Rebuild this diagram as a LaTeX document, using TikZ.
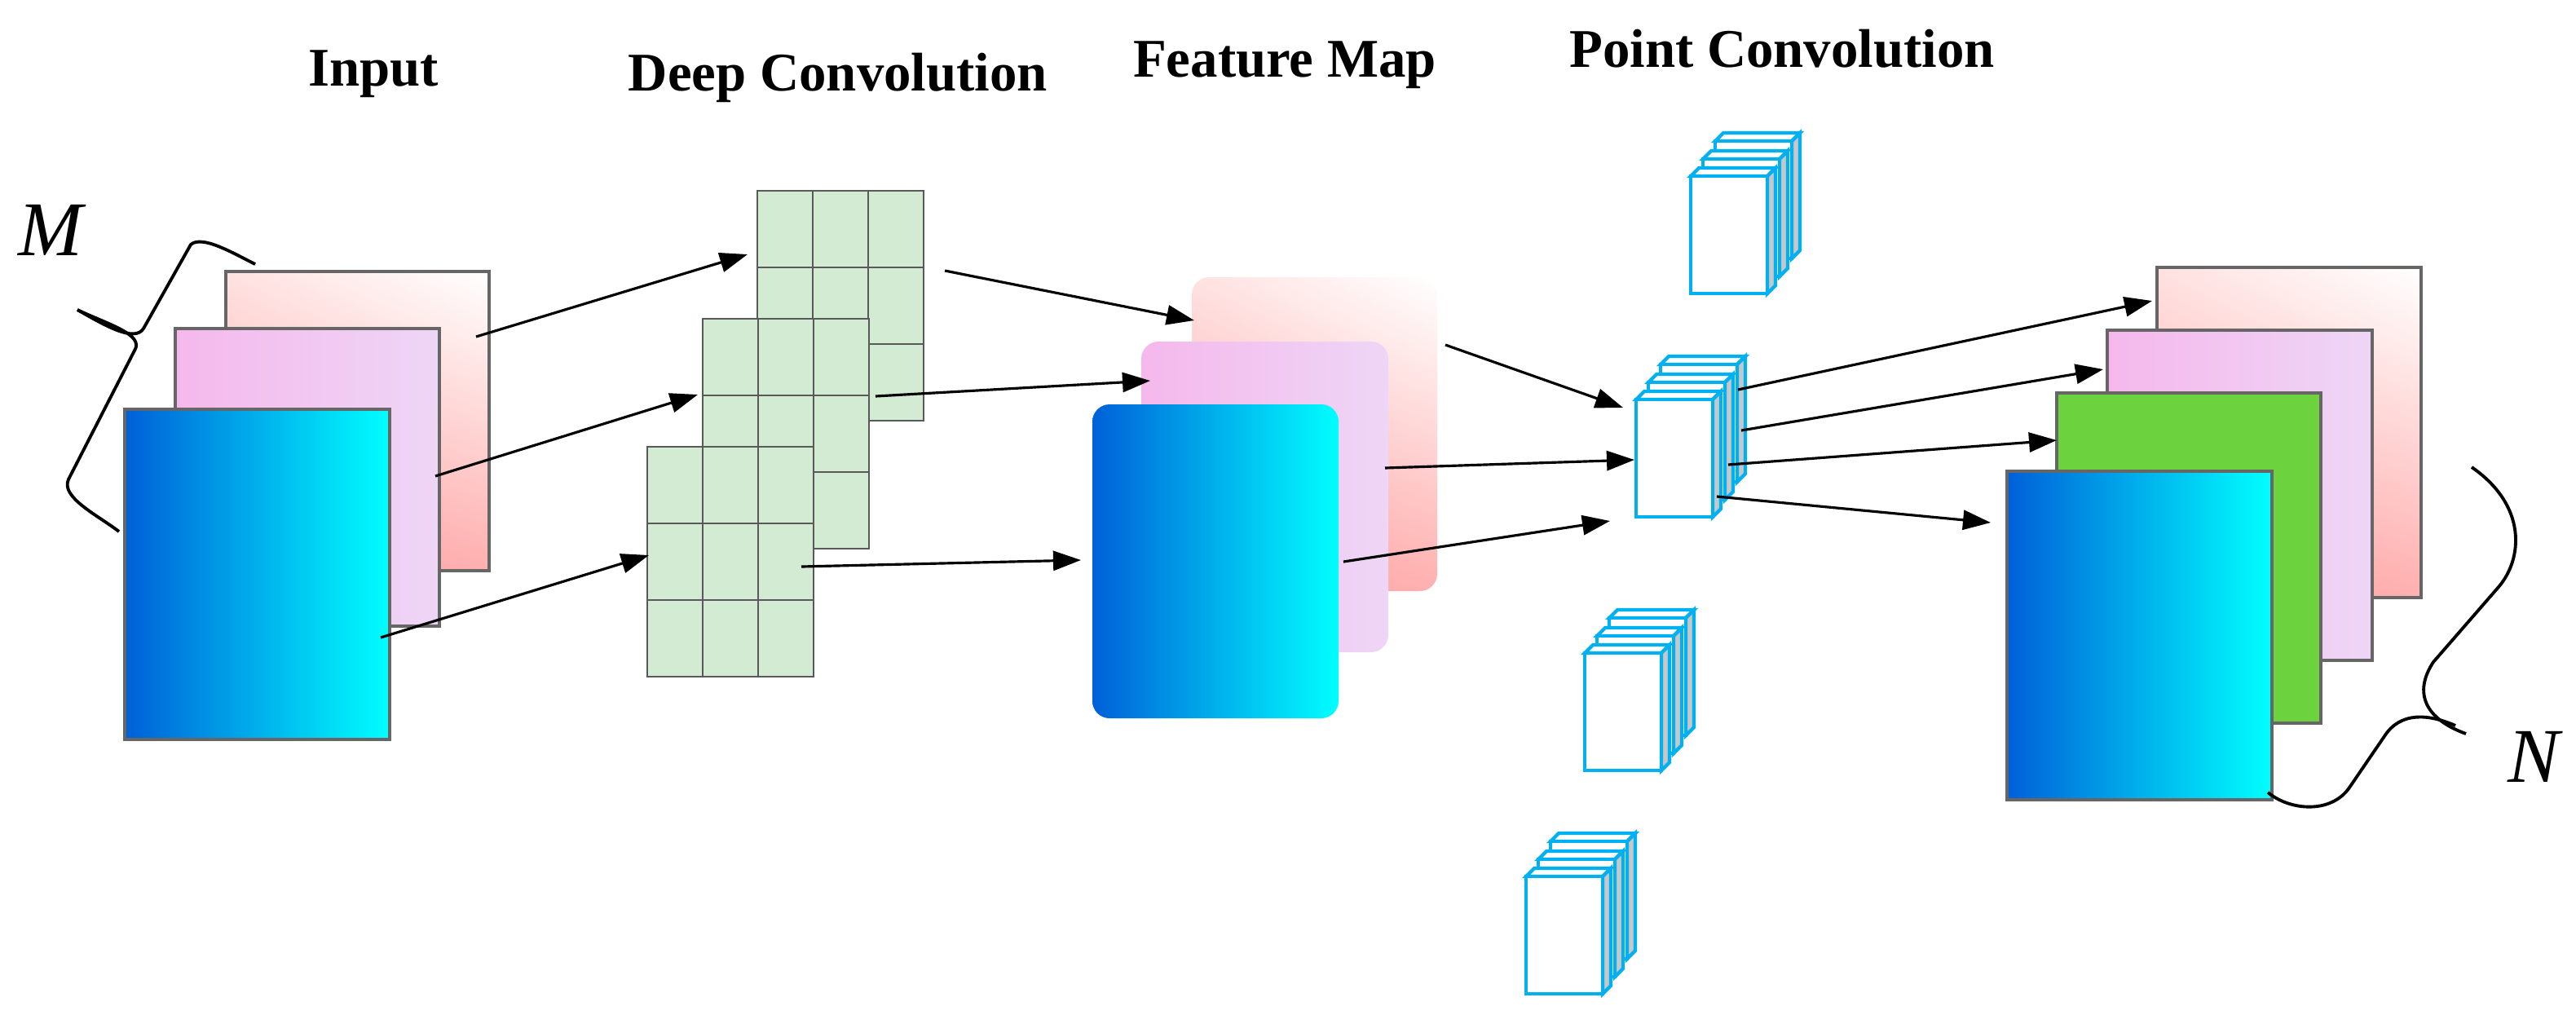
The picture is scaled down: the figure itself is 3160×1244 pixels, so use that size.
\documentclass[tikz,border=0pt]{standalone}
\usepackage{fontspec}
\setmainfont{Liberation Serif}
\usetikzlibrary{arrows.meta,shadings}
\definecolor{cy}{HTML}{00B0F0}
\definecolor{gridg}{HTML}{D3EBD3}
\definecolor{bdark}{HTML}{0060D8}
\definecolor{bcyan}{HTML}{00FFFF}
\definecolor{pk1}{HTML}{F5B8EC}
\definecolor{pk2}{HTML}{EED6F6}
\definecolor{rd}{HTML}{FF9C9C}
\definecolor{grn}{HTML}{6CD33F}
\tikzset{
 x=0.01cm,y=-0.01cm,
 ttl/.style={font=\bfseries\fontsize{19}{22}\selectfont},
 lbl/.style={font=\itshape\fontsize{27}{30}\selectfont},
 lay/.style={draw=black!60,line width=1.2pt},
 bluel/.style={left color=bdark,right color=bcyan},
 pinkl/.style={left color=pk1,right color=pk2},
 redl/.style={upper right=white,upper left=rd!30,lower left=rd,lower right=rd!80},
 fm/.style={rounded corners=6pt},
 ar/.style={line width=0.9pt,-{Triangle[length=0.34cm,width=0.24cm]}},
 brc/.style={line width=1.1pt},
 cub/.style={draw=cy,line width=1.2pt,line join=miter},
}
\newcommand\mycub[2]{%
 \filldraw[cub,fill=white] (#1,#2) -- ++(10,-10) -- ++(94,0) -- ++(-10,10) -- cycle;
 \filldraw[cub,fill=black!22] (#1+94,#2) -- ++(10,-10) -- ++(0,144) -- ++(-10,10) -- cycle;
 \filldraw[cub,fill=white] (#1,#2) rectangle ++(94,144);}
\newcommand\mystack[2]{\mycub{#1+30}{#2-43}\mycub{#1+15}{#2-21}\mycub{#1}{#2}}
\newcommand\mygrid[2]{%
 \filldraw[fill=gridg,draw=black!65,line width=0.8pt] (#1,#2) rectangle ++(204,282);
 \draw[black!65,line width=0.8pt] (#1+68,#2) -- ++(0,282) (#1+136,#2) -- ++(0,282)
   (#1,#2+94) -- ++(204,0) (#1,#2+188) -- ++(204,0);}
\begin{document}
\begin{tikzpicture}
\useasboundingbox (0,0) rectangle (3160,1244);
% titles
\node[ttl] (t1) at (458,91) {Input};
\node[ttl] (t2) at (1028,95) {Deep Convolution};
\node[ttl] (t3) at (1576,80) {Feature Map};
\node[ttl] (t4) at (2186,60) {Point Convolution};
\node[lbl] (m) at (62,282) {M};
\node[lbl] (n) at (3108,928) {N};
% input layers
\shade[redl] (277,333) rectangle (600,700); \draw[lay] (277,333) rectangle (600,700);
\shade[pinkl] (215,403) rectangle (539,768); \draw[lay] (215,403) rectangle (539,768);
\shade[bluel] (153,502) rectangle (478,907); \draw[lay] (153,502) rectangle (478,907);
% M brace
\draw[brc] (313,324) .. controls (285,310) and (248,288) .. (234,300) -- (176,403)
  .. controls (165,420) and (130,400) .. (95,380);
\draw[brc] (95,380) .. controls (130,397) and (178,410) .. (165,430) -- (84,588)
  .. controls (74,610) and (120,632) .. (146,652);
% grids
\mygrid{929}{234}
\mygrid{862}{391}
\mygrid{794}{548}
% feature map
\shade[fm,redl] (1462,340) rectangle (1763,725);
\shade[fm,pinkl] (1400,419) rectangle (1703,800);
\shade[fm,bluel] (1340,496) rectangle (1642,881);
% point conv stacks
\mystack{2074}{216}
\mystack{2007}{490}
\mystack{1944}{801}
\mystack{1872}{1075}
% output layers
\shade[redl] (2646,328) rectangle (2970,733); \draw[lay] (2646,328) rectangle (2970,733);
\shade[pinkl] (2585,405) rectangle (2910,810); \draw[lay] (2585,405) rectangle (2910,810);
\filldraw[lay,fill=grn] (2523,482) rectangle (2847,887);
\shade[bluel] (2462,578) rectangle (2787,981); \draw[lay] (2462,578) rectangle (2787,981);
% N brace
\draw[brc] (3032,573) .. controls (3100,620) and (3095,685) .. (3065,720) -- (2985,812)
  .. controls (2960,850) and (2975,882) .. (3025,900);
\draw[brc] (3012,890) .. controls (2980,876) and (2945,872) .. (2925,903) -- (2882,966)
  .. controls (2860,998) and (2810,995) .. (2782,972);
% arrow endpoints
\foreach \n/\x/\y in {a1/584/413,b1/917/312,a2/534/584,b2/856/484,a3/467/782,b3/796/681,
  a4/1159/332,b4/1465/393,a5/1074/486,b5/1411/467,a6/983/695,b6/1326/687,
  a7/1773/423,b7/1991/500,a8/1699/574,b8/2005/564,a9/1648/689,b9/1975/639,
  a10/2132/478,b10/2640/369,a11/2136/528,b11/2580/453,a12/2120/570,b12/2523/540,
  a13/2106/609,b13/2442/641}{\coordinate (\n) at (\x,\y);}
\foreach \i in {1,...,13}{\draw[ar] (a\i) -- (b\i);}
\end{tikzpicture}
\end{document}
